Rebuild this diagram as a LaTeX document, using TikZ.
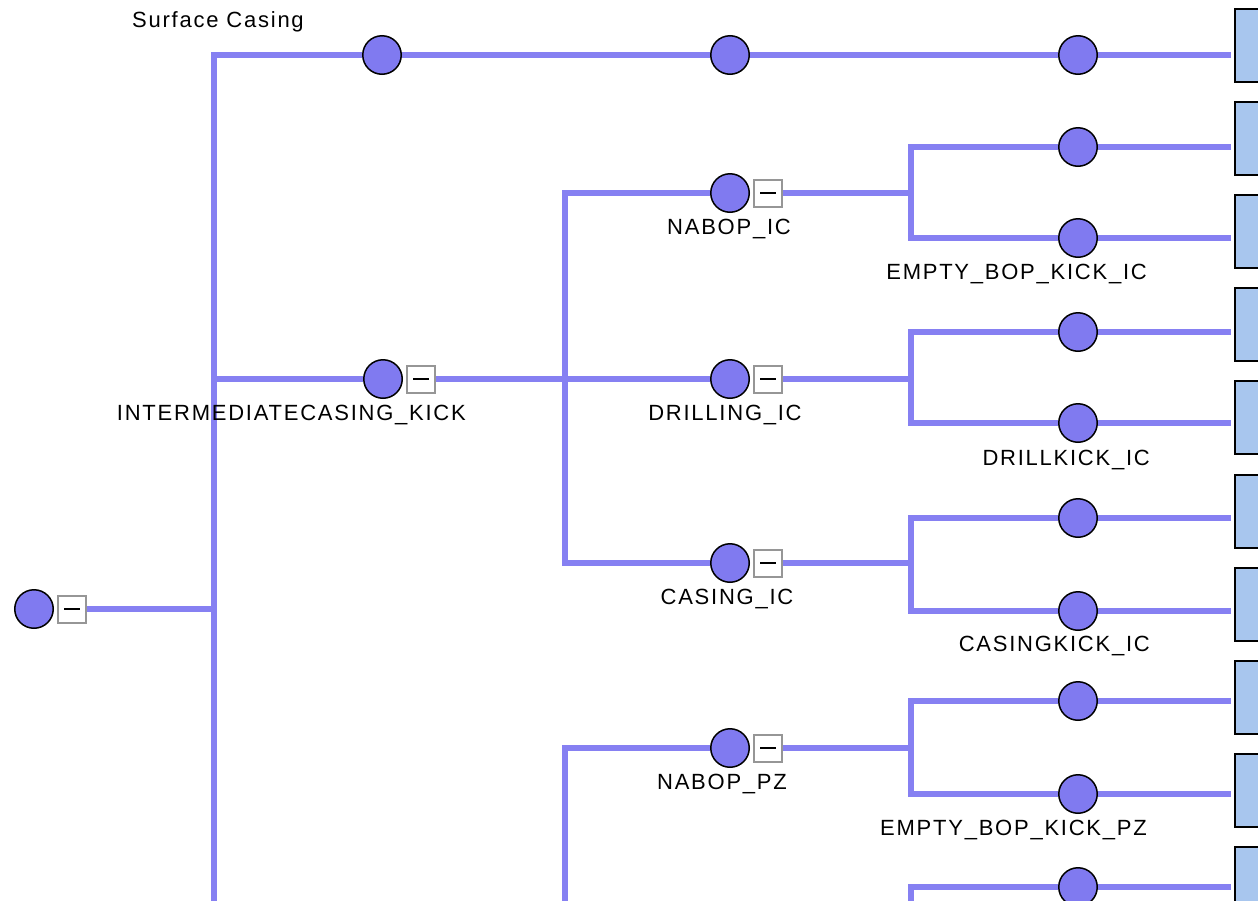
\documentclass[tikz,border=0pt]{standalone}
\usepackage{fontspec}
\newfontfamily\lblfont[LetterSpace=8]{Liberation Sans}
\usetikzlibrary{positioning}
\definecolor{treeline}{RGB}{134,128,242}
\definecolor{dotfill}{RGB}{128,122,240}
\definecolor{leaffill}{RGB}{168,198,238}
\definecolor{boxedge}{RGB}{150,150,150}
\tikzset{
  link/.style={draw=treeline, line width=6.5pt},
  dot/.style={circle, draw=black, line width=1.5pt, fill=dotfill, minimum size=38.5pt, inner sep=0pt},
  minus/.style={rectangle, draw=boxedge, line width=2pt, fill=white, minimum width=28pt, minimum height=27pt, inner sep=0pt, right=3pt of #1,
    path picture={\draw[black, line width=2.5pt] ([xshift=-8pt]path picture bounding box.center) -- ([xshift=8pt]path picture bounding box.center);}},
  leaf/.style={rectangle, draw=black, line width=2pt, fill=leaffill, minimum width=80pt, minimum height=73pt, anchor=north west, inner sep=0pt},
  lbl/.style={font=\lblfont\fontsize{22}{24}\selectfont, inner sep=0pt},
}
\begin{document}
\begin{tikzpicture}[x=1pt,y=-1pt]
  \useasboundingbox (0,0) rectangle (1258,900);
  \clip (0,0) rectangle (1258,900);
  % root
  \node[dot] (root) at (34,609) {};
  \node[minus=root] (rootm) {};
  % first level
  \node[dot] (sc) at (382,55) {};
  \node[dot] (sc2) at (730,55) {};
  \node[dot] (ick) at (383,379) {};
  \node[minus=ick] (ickm) {};
  % second level
  \node[dot] (nabic) at (730,193) {};
  \node[minus=nabic] (nabicm) {};
  \node[dot] (drlic) at (730,379) {};
  \node[minus=drlic] (drlicm) {};
  \node[dot] (casic) at (730,563) {};
  \node[minus=casic] (casicm) {};
  \node[dot] (nabpz) at (730,748) {};
  \node[minus=nabpz] (nabpzm) {};
  % third level and leaves
  \foreach \y [count=\r from 0] in {55,147,238,332,423,518,611,701,794,887} {
    \node[dot] (c\r) at (1078,\y) {};
    \node[leaf] (leaf\r) at (1234,{8+93.1*\r}) {};
    \draw[link, shorten >=3pt] (c\r.east) -- (c\r.east -| leaf\r.west);
  }
  % junctions
  \coordinate (rootj) at (214,609);
  \coordinate (rootend) at (214,910);
  \coordinate (ickj) at (565,379);
  \coordinate (pzend) at (565,910);
  \coordinate (nabicj) at (911,193);
  \coordinate (drlicj) at (911,379);
  \coordinate (casicj) at (911,563);
  \coordinate (nabpzj) at (911,748);
  \coordinate (nextend) at (911,910);
  % links
  \draw[link] (rootm.east) -- (rootj);
  \draw[link] (sc.west) -| (rootend);
  \draw[link] (rootj |- ick) -- (ick.west);
  \draw[link] (sc.east) -- (sc2.west);
  \draw[link] (sc2.east) -- (c0.west);
  \draw[link] (ickm.east) -- (drlic.west);
  \draw[link] (nabic.west) -| (ickj |- casic) -- (casic.west);
  \draw[link] (nabpz.west) -| (pzend);
  \draw[link] (nabicm.east) -- (nabicj);
  \draw[link] (c1.west) -| (nabicj |- c2) -- (c2.west);
  \draw[link] (drlicm.east) -- (drlicj);
  \draw[link] (c3.west) -| (drlicj |- c4) -- (c4.west);
  \draw[link] (casicm.east) -- (casicj);
  \draw[link] (c5.west) -| (casicj |- c6) -- (c6.west);
  \draw[link] (nabpzm.east) -- (nabpzj);
  \draw[link] (c7.west) -| (nabpzj |- c8) -- (c8.west);
  \draw[link] (c9.west) -| (nextend);
  % labels
  \node[lbl, anchor=base] (sclbl) at (218,27) {Surface Casing};
  \node[lbl, anchor=base east] (icklbl) at (466,420) {INTERMEDIATECASING\_KICK};
  \node[lbl, anchor=base] (nabiclbl) at (729,234) {NABOP\_IC};
  \node[lbl, anchor=base] (drliclbl) at (725,420) {DRILLING\_IC};
  \node[lbl, anchor=base] (casiclbl) at (727,604) {CASING\_IC};
  \node[lbl, anchor=base] (nabpzlbl) at (722,789) {NABOP\_PZ};
  \node[lbl, anchor=base east] (c2lbl) at (1147,279) {EMPTY\_BOP\_KICK\_IC};
  \node[lbl, anchor=base east] (c4lbl) at (1150,465) {DRILLKICK\_IC};
  \node[lbl, anchor=base east] (c6lbl) at (1150,651) {CASINGKICK\_IC};
  \node[lbl, anchor=base east] (c8lbl) at (1147,835) {EMPTY\_BOP\_KICK\_PZ};
\end{tikzpicture}
\end{document}
